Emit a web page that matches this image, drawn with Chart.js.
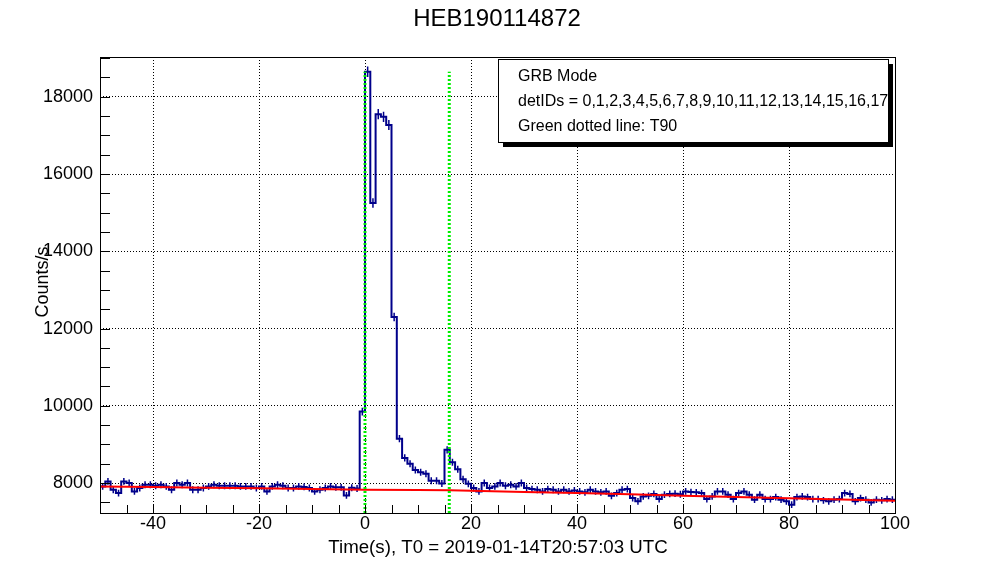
<!DOCTYPE html>
<html>
<head>
<meta charset="utf-8">
<title>HEB190114872</title>
<script src="https://cdn.jsdelivr.net/npm/chart.js@4.4.0/dist/chart.umd.min.js"></script>
<style>
    html, body { margin: 0; padding: 0; background: #fff; }
    #wrap { width: 996px; height: 572px; }
</style>
</head>
<body>
<div id="wrap"><canvas id="lightCurve" width="996" height="572"></canvas></div>
<script>

// light curve: 1 s bins, first bin starts at T0 - 50 s (counts/s)
var binStart = -50;
var binWidth = 1;
var rate = [
    7914, 8043, 7828, 7741, 8043, 8000, 7784, 7871, 7957, 7957,
    7930, 7957, 7914, 7828, 8000, 7957, 8000, 7828, 7828, 7871,
    7914, 7957, 7930, 7930, 7930, 7930, 7914, 7914, 7914, 7871,
    7914, 7784, 7914, 7957, 7930, 7871, 7871, 7914, 7900, 7871,
    7784, 7828, 7871, 7914, 7890, 7890, 7680, 7880, 7860, 9850,
    18650, 15250, 17550, 17480, 17270, 12300, 9150, 8650, 8500, 8340,
    8280, 8240, 8060, 8060, 7990, 8862, 8540, 8360, 8100, 7980,
    7871, 7784, 8000, 7871, 7914, 8000, 7930, 7957, 7914, 8000,
    7871, 7845, 7828, 7784, 7845, 7828, 7784, 7828, 7784, 7810,
    7784, 7760, 7828, 7784, 7760, 7784, 7670, 7741, 7828, 7845,
    7612, 7526, 7655, 7670, 7720, 7586, 7698, 7720, 7725, 7710,
    7784, 7767, 7760, 7741, 7586, 7655, 7784, 7784, 7698, 7586,
    7741, 7784, 7698, 7569, 7698, 7586, 7586, 7638, 7569, 7526,
    7440, 7638, 7655, 7638, 7586, 7586, 7552, 7526, 7569, 7586,
    7741, 7720, 7526, 7612, 7569, 7500, 7569, 7552, 7586, 7569
];

// background fit (red curve), read at a few times
var bgTime = [-50, -40, -30, -20, -10, 0, 10, 16, 20, 30, 40, 50, 60, 70, 80, 90, 100];
var bgRate = [7910, 7895, 7880, 7865, 7848, 7830, 7822, 7815, 7800, 7770, 7740, 7710, 7670, 7640, 7605, 7575, 7545];

// T90 window (green dotted lines)
var t90Edges = [0, 15.9];

var xTickLabels = [-40, -20, 0, 20, 40, 60, 80, 100];
var yTickLabels = [8000, 10000, 12000, 14000, 16000, 18000];

var legendLines = ["GRB Mode", "detIDs = 0,1,2,3,4,5,6,7,8,9,10,11,12,13,14,15,16,17", "Green dotted line: T90"];

var xMin = -50, xMax = 100;
var yMin = 7225, yMax = 19030;

var FONT = '"Liberation Sans", Arial, Helvetica, sans-serif';
var histColor = '#00008b';

var edges = rate.map(function (r, i) { return binStart + i * binWidth; });
var histPoints = edges.map(function (t, i) { return { x: t, y: rate[i] }; });
histPoints.push({ x: binStart + rate.length * binWidth, y: rate[rate.length - 1] });

var bgPoints = bgTime.map(function (t, i) { return { x: t, y: bgRate[i] }; });
var peak = Math.max.apply(null, rate);

var greenSets = t90Edges.map(function (t) {
    return {
        data: [{ x: t, y: yMin }, { x: t, y: peak }],
        borderColor: '#00ee00',
        borderWidth: 3,
        borderDash: [2, 2],
        pointRadius: 0,
        order: 0
    };
});

// error bars at bin centres, sqrt(N)
var errorBars = {
    id: 'errorBars',
    beforeDatasetsDraw: function (chart) {
        var xs = chart.scales.x, ys = chart.scales.y, ctx = chart.ctx;
        var area = chart.chartArea;
        ctx.save();
        ctx.beginPath();
        ctx.rect(area.left, area.top, area.right - area.left, area.bottom - area.top);
        ctx.clip();
        ctx.strokeStyle = histColor;
        ctx.lineWidth = 1.5;
        ctx.beginPath();
        rate.forEach(function (r, i) {
            var cx = xs.getPixelForValue(edges[i] + binWidth / 2);
            var err = Math.sqrt(r * binWidth) / binWidth;
            ctx.moveTo(cx, ys.getPixelForValue(r - err));
            ctx.lineTo(cx, ys.getPixelForValue(r + err));
        });
        ctx.stroke();
        ctx.restore();
    }
};

// frame, inward ticks, titles and the info box
var decorations = {
    id: 'decorations',
    afterDraw: function (chart) {
        var ctx = chart.ctx, a = chart.chartArea;
        var xs = chart.scales.x, ys = chart.scales.y;
        ctx.save();
        ctx.strokeStyle = '#000';
        ctx.lineWidth = 1;
        ctx.strokeRect(a.left + 0.5, a.top + 0.5, a.right - a.left, a.bottom - a.top);

        ctx.beginPath();
        for (var v = xMin; v <= xMax; v += 5) {
            var px = Math.round(xs.getPixelForValue(v)) + 0.5;
            ctx.moveTo(px, a.bottom);
            ctx.lineTo(px, a.bottom - 8);
        }
        for (var w = 7500; w <= yMax; w += 500) {
            var py = Math.round(ys.getPixelForValue(w)) + 0.5;
            ctx.moveTo(a.left, py);
            ctx.lineTo(a.left + 10, py);
        }
        ctx.stroke();

        ctx.fillStyle = '#000';
        ctx.textAlign = 'center';
        ctx.textBaseline = 'middle';
        ctx.font = '24px ' + FONT;
        ctx.fillText('HEB190114872', 497, 19);

        ctx.font = '18.7px ' + FONT;
        ctx.fillText('Time(s), T0 = 2019-01-14T20:57:03 UTC', 498, 548);

        ctx.save();
        ctx.translate(43, 282);
        ctx.rotate(-Math.PI / 2);
        ctx.font = '18px ' + FONT;
        ctx.fillText('Counts/s', 0, 0);
        ctx.restore();

        // info box with shadow
        var bx = 498, by = 59, bw = 390, bh = 83;
        ctx.fillStyle = '#000';
        ctx.fillRect(bx + 5, by + 5, bw, bh);
        ctx.fillStyle = '#fff';
        ctx.fillRect(bx, by, bw, bh);
        ctx.strokeRect(bx + 0.5, by + 0.5, bw, bh);
        ctx.save();
        ctx.beginPath();
        ctx.rect(bx, by, bw, bh);
        ctx.clip();
        ctx.fillStyle = '#000';
        ctx.textAlign = 'left';
        ctx.font = '16px ' + FONT;
        legendLines.forEach(function (s, i) {
            ctx.fillText(s, 518, 77 + i * 25);
        });
        ctx.restore();
        ctx.restore();
    }
};

var ctx1 = document.getElementById('lightCurve').getContext('2d');
new Chart(ctx1, {
    type: 'line',
    data: {
        datasets: greenSets.concat([
            {
                data: bgPoints,
                borderColor: '#ff0000',
                borderWidth: 2,
                pointRadius: 0,
                order: 1
            },
            {
                data: histPoints,
                stepped: 'before',
                borderColor: histColor,
                borderWidth: 2,
                pointRadius: 0,
                order: 2
            }
        ])
    },
    options: {
        responsive: false,
        animation: false,
        events: [],
        layout: { padding: { top: 57, right: 101, bottom: 0, left: 0 } },
        plugins: {
            legend: { display: false },
            tooltip: { enabled: false }
        },
        scales: {
            x: {
                type: 'linear',
                min: xMin,
                max: xMax,
                afterFit: function (scale) { scale.height = 59; },
                afterBuildTicks: function (scale) {
                    scale.ticks = xTickLabels.map(function (v) { return { value: v }; });
                },
                grid: { color: '#000', lineWidth: 1, drawTicks: false },
                border: { display: false, dash: [1, 2] },
                ticks: {
                    autoSkip: false,
                    maxRotation: 0,
                    padding: 0,
                    color: '#000',
                    font: { family: FONT, size: 18 },
                    callback: function (v) { return String(v); }
                }
            },
            y: {
                type: 'linear',
                min: yMin,
                max: yMax,
                afterFit: function (scale) { scale.width = 100; },
                afterBuildTicks: function (scale) {
                    scale.ticks = yTickLabels.map(function (v) { return { value: v }; });
                },
                grid: { color: '#000', lineWidth: 1, drawTicks: false },
                border: { display: false, dash: [1, 2] },
                ticks: {
                    padding: 7,
                    color: '#000',
                    font: { family: FONT, size: 18 },
                    callback: function (v) { return String(v); }
                }
            }
        }
    },
    plugins: [errorBars, decorations]
});
</script>
</body>
</html>
